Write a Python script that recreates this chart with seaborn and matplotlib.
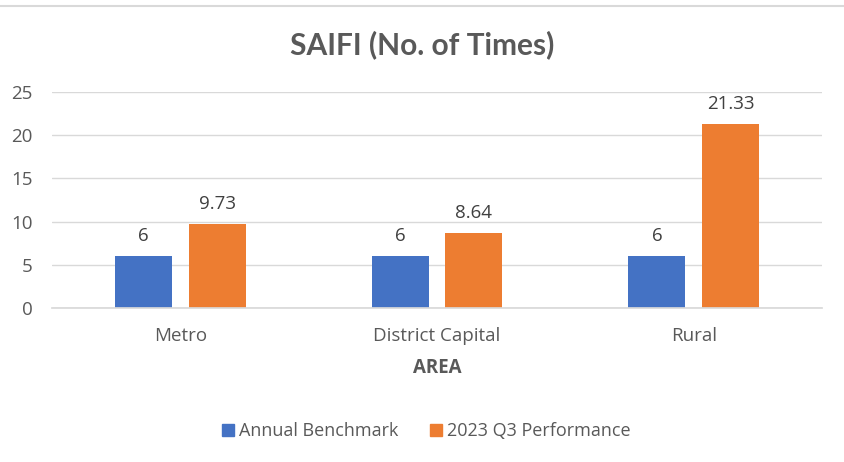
import matplotlib
matplotlib.use("Agg")
import matplotlib.pyplot as plt
import seaborn as sns
import pandas as pd
from matplotlib.lines import Line2D

categories = ["Metro", "District Capital", "Rural"]
series_names = ["Annual Benchmark", "2023 Q3 Performance"]
benchmark = [6, 6, 6]
performance = [9.73, 8.64, 21.33]
label_benchmark = ["6", "6", "6"]
label_performance = ["9.73", "8.64", "21.33"]
colors = ["#4472C4", "#ED7D31"]
y_ticks = [0, 5, 10, 15, 20, 25]

sns.set_theme(style="white")
plt.rcParams["font.family"] = ["Open Sans", "DejaVu Sans"]

df = pd.DataFrame({
    "AREA": categories * 2,
    "Series": [series_names[0]] * 3 + [series_names[1]] * 3,
    "Value": benchmark + performance,
})

fig = plt.figure(figsize=(8.45, 4.62), dpi=100)
ax = fig.add_axes([52 / 845, 1 - 308 / 462, 770 / 845, 216 / 462])

sns.barplot(data=df, x="AREA", y="Value", hue="Series", hue_order=series_names,
            palette=colors, saturation=1, width=0.573, gap=0.225, ax=ax, legend=False,
            edgecolor="none", linewidth=0)

ax.set_xlim(-0.5, 2.5)
ax.set_ylim(0, 25)
ax.set_yticks(y_ticks)
ax.yaxis.grid(True, color="#D9D9D9", linewidth=1)
ax.set_axisbelow(True)
for s in ["top", "right", "left"]:
    ax.spines[s].set_visible(False)
ax.spines["bottom"].set_color("#D9D9D9")
ax.tick_params(axis="both", length=0, labelsize=13.5, labelcolor="#595959")
ax.tick_params(axis="y", pad=14)
ax.tick_params(axis="x", pad=14)
ax.set_ylabel("")
ax.set_xlabel("AREA", fontsize=13.5, fontweight="bold", color="#595959", labelpad=9)

labels_all = [label_benchmark, label_performance]
for cont, labs in zip(ax.containers, labels_all):
    ax.bar_label(cont, labels=labs, padding=8, fontsize=13.5, color="#404040")

fig.text(0.5, 1 - 45 / 462, "SAIFI (No. of Times)", ha="center", va="center",
         fontsize=21.5, fontweight="bold", color="#595959", family=["Lato", "DejaVu Sans"])

handles = [Line2D([0], [0], marker="s", linestyle="none", markersize=9,
                  markerfacecolor=c, markeredgecolor=c) for c in colors]
fig.legend(handles, series_names, loc="center", bbox_to_anchor=(0.503, 1 - 431 / 462),
           ncol=2, frameon=False, fontsize=13, labelcolor="#595959",
           handletextpad=0.1, columnspacing=1.6, handlelength=1.0)

fig.add_artist(Line2D([0, 1], [1 - 6 / 462, 1 - 6 / 462], color="#D9D9D9", linewidth=1.5))

fig.savefig("out.png", dpi=100, facecolor="white")
